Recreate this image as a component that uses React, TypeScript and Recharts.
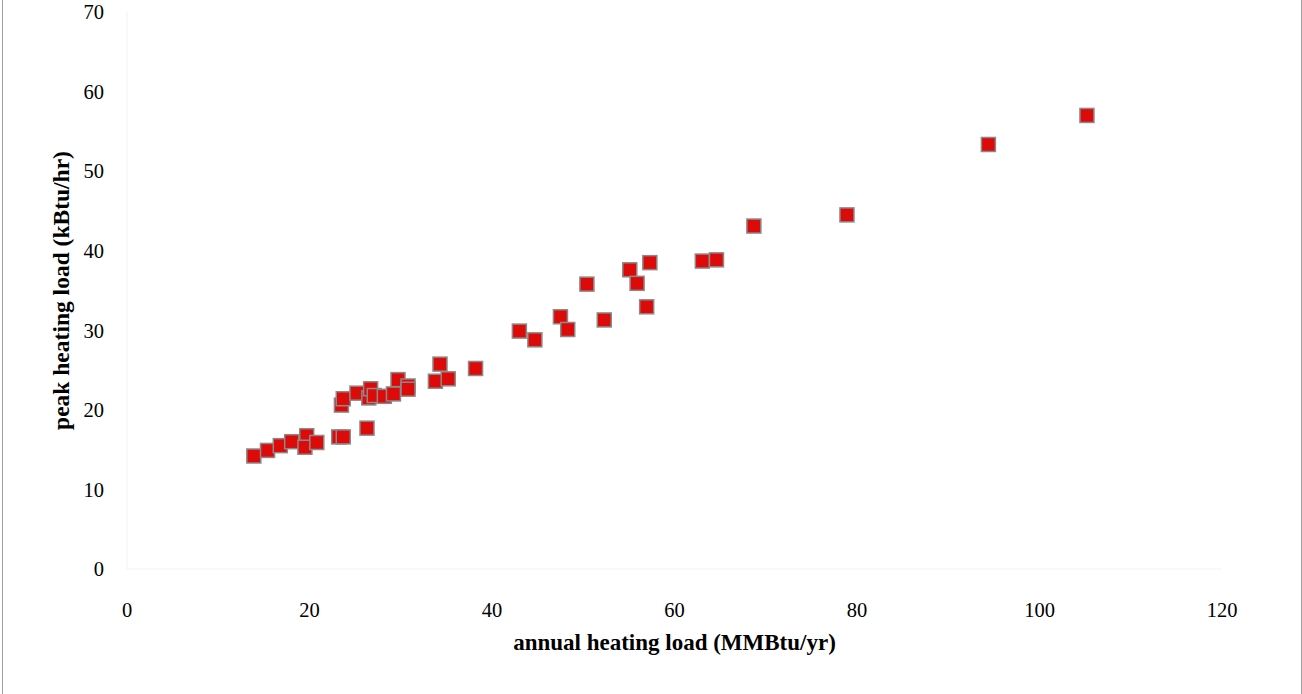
import React from 'react';
import { ScatterChart, Scatter, XAxis, YAxis, Label } from 'recharts';

const annualLoad = [
  13.9, 15.4, 16.8, 18.05, 19.7, 19.5, 20.8, 23.2, 23.7, 26.3,
  23.5, 23.7, 25.2, 26.5, 26.7, 27.1, 28.2, 29.2, 29.7, 30.8,
  30.8, 33.8, 34.3, 35.2, 38.2, 43.0, 44.7, 47.5, 48.3, 50.4,
  52.3, 55.1, 55.9, 56.95, 57.3, 63.05, 64.6, 68.7, 78.9, 94.4, 105.2,
];
const peakLoad = [
  14.2, 14.9, 15.5, 16.0, 16.75, 15.3, 15.9, 16.6, 16.6, 17.7,
  20.6, 21.4, 22.1, 21.5, 22.65, 21.8, 21.7, 22.0, 23.8, 23.0,
  22.6, 23.6, 25.75, 23.9, 25.2, 29.9, 28.8, 31.7, 30.1, 35.8,
  31.3, 37.6, 35.9, 32.95, 38.5, 38.7, 38.85, 43.1, 44.5, 53.35, 57.0,
];
const xTicks = [0, 20, 40, 60, 80, 100, 120];
const yTicks = [0, 10, 20, 30, 40, 50, 60, 70];

const data = annualLoad.map((x, i) => ({ x, y: peakLoad[i] }));

const FONT = '"Liberation Serif", "Times New Roman", serif';
const MARK = 14;

const SquareMark = (props: any) => {
  const { cx, cy } = props;
  if (cx == null || cy == null) return null;
  return (
    <rect
      x={cx - MARK / 2}
      y={cy - MARK / 2}
      width={MARK}
      height={MARK}
      fill="#DD0A0A"
      stroke="#8a8a8a"
      strokeWidth={1.5}
    />
  );
};

export default function App() {
  return (
    <div style={{ position: 'absolute', left: 0, top: 0, width: 1302, height: 694, background: '#fff' }}>
      <div
        style={{
          position: 'absolute',
          left: 2,
          top: 0,
          width: 1298,
          height: 694,
          borderLeft: '1px solid #a0a0a0',
          borderRight: '1px solid #a0a0a0',
        }}
      />
      <ScatterChart
        width={1302}
        height={694}
        margin={{ top: 12, right: 80, bottom: 0, left: 0 }}
        style={{ position: 'absolute', left: 0, top: 0 }}
      >
        <XAxis
          type="number"
          dataKey="x"
          domain={[0, 120]}
          ticks={xTicks}
          height={125}
          axisLine={{ stroke: '#f2f2f2' }}
          tickLine={false}
          tickMargin={27}
          tick={{ fill: '#000', fontSize: 20.5, fontFamily: FONT }}
        >
          <Label
            value="annual heating load (MMBtu/yr)"
            position="insideBottom"
            offset={44}
            style={{ fill: '#000', fontSize: 23, fontWeight: 'bold', fontFamily: FONT }}
          />
        </XAxis>
        <YAxis
          type="number"
          dataKey="y"
          domain={[0, 70]}
          ticks={yTicks}
          width={127}
          axisLine={{ stroke: '#f2f2f2' }}
          tickLine={false}
          tickMargin={17}
          tick={{ fill: '#000', fontSize: 20.5, fontFamily: FONT }}
        >
          <Label
            value="peak heating load (kBtu/hr)"
            position="center"
            angle={-90}
            dx={-3}
            style={{ fill: '#000', fontSize: 23.5, fontWeight: 'bold', fontFamily: FONT, textAnchor: 'middle' }}
          />
        </YAxis>
        <Scatter
          data={data}
          shape={SquareMark}
          fill="#DD0A0A"
          isAnimationActive={false}
        />
      </ScatterChart>
    </div>
  );
}
